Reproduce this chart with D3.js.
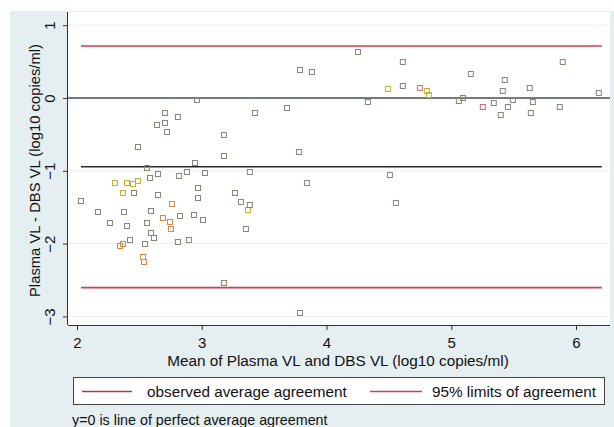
<!DOCTYPE html>
<html>
<head>
<meta charset="utf-8">
<script src="https://cdn.jsdelivr.net/npm/d3@7"></script>
<style>
  html, body { margin: 0; padding: 0; background: #ffffff; }
  svg { display: block; font-family: "Liberation Sans", Arial, sans-serif; }
</style>
</head>
<body>
<svg id="chart" width="614" height="427"></svg>
<script>
// Bland-Altman agreement: plasma vs DBS viral load (log10 copies/ml)
const meanVL = [
  2.032, 2.168, 2.264, 2.304, 2.369, 2.377, 2.401, 2.401, 2.449, 2.457,
  2.489, 2.489, 2.345, 2.369, 2.425, 2.529, 2.537, 2.545, 2.561, 2.561,
  2.585, 2.593, 2.593, 2.617, 2.641, 2.649, 2.649, 2.705, 2.705, 2.721,
  2.689, 2.745, 2.753, 2.761, 2.809, 2.817, 2.809, 2.825, 2.881, 2.897,
  2.938, 2.946, 2.962, 2.970, 2.970, 3.010, 3.026, 3.178, 3.178, 3.178,
  3.266, 3.314, 3.370, 3.386, 3.354, 3.386, 3.426, 3.683, 3.779, 3.787,
  3.843, 3.787, 3.883, 4.252, 4.332, 4.492, 4.508, 4.556, 4.612, 4.612,
  4.748, 4.804, 4.821, 5.157, 5.061, 5.093, 5.253, 5.341, 5.397, 5.413,
  5.429, 5.454, 5.494, 5.630, 5.638, 5.654, 5.870, 5.894, 6.183
];
const diffVL = [
  -1.415, -1.566, -1.717, -1.168, -1.305, -1.566, -1.168, -1.758, -1.181, -1.305,
  -1.140, -0.673, -2.033, -2.005, -1.951, -2.184, -2.253, -2.005, -0.962, -1.717,
  -1.099, -1.552, -1.854, -1.923, -0.371, -1.044, -1.332, -0.206, -0.343, -0.467,
  -1.648, -1.703, -1.799, -1.456, -0.261, -1.071, -1.978, -1.621, -1.016, -1.951,
  -1.607, -0.893, -0.027, -1.236, -1.374, -1.676, -1.030, -0.508, -0.797, -2.541,
  -1.305, -1.429, -1.538, -1.470, -1.799, -1.016, -0.206, -0.137, -0.742, -2.953,
  -1.168, 0.385, 0.357, 0.632, -0.055, 0.124, -1.058, -1.442, 0.495, 0.165,
  0.137, 0.096, 0.041, 0.330, -0.041, 0.000, -0.124, -0.069, -0.234, 0.096,
  0.247, -0.124, -0.027, 0.137, -0.206, -0.055, -0.124, 0.495, 0.069
];
// marker tint group per observation (0 grey, 1 orange, 2 yellow, 3 rose)
const markerGroup = [
  0, 0, 0, 2, 2, 0, 2, 0, 2, 0,
  2, 0, 1, 1, 0, 1, 1, 0, 0, 0,
  0, 0, 0, 0, 0, 0, 0, 0, 0, 0,
  1, 1, 1, 1, 0, 0, 0, 0, 0, 0,
  0, 0, 0, 0, 0, 0, 0, 0, 0, 0,
  0, 0, 2, 0, 0, 0, 0, 0, 0, 0,
  0, 0, 0, 0, 0, 2, 0, 0, 0, 0,
  3, 2, 2, 0, 0, 0, 3, 0, 0, 0,
  0, 0, 0, 0, 0, 0, 0, 0, 0
];

// agreement statistics
const meanDifference = -0.945;
const limitsOfAgreement = [0.715, -2.605];

const xTicks = [2, 3, 4, 5, 6];
const yTicks = [1, 0, -1, -2, -3];

const xTitle = "Mean of Plasma VL and DBS VL (log10 copies/ml)";
const yTitle = "Plasma VL - DBS VL (log10 copies/ml)";
const legendLabels = ["observed average agreement", "95% limits of agreement"];
const footnote = "y=0 is line of perfect average agreement";

const groupColors = ["#8e8272", "#d08a44", "#c4ad2c", "#d06a70"];
const FONT = "Liberation Sans, Arial, sans-serif";

const svg = d3.select("#chart");
const W = 614, H = 427;

// graph region
svg.append("rect").attr("x", 10).attr("y", 11).attr("width", W - 10).attr("height", H - 11)
  .attr("fill", "#e5eef0");

const plot = { left: 68, right: 610, top: 12, bottom: 325 };
svg.append("rect")
  .attr("x", plot.left).attr("y", plot.top)
  .attr("width", plot.right - plot.left).attr("height", plot.bottom - plot.top)
  .attr("fill", "#ffffff");

const x = d3.scaleLinear().domain([2, 6]).range([77, 576]);
const y = d3.scaleLinear().domain([1, -3]).range([25.2, 316.4]);

// faint horizontal grid
svg.append("g").selectAll("line").data(yTicks).join("line")
  .attr("x1", plot.left).attr("x2", plot.right)
  .attr("y1", d => y(d)).attr("y2", d => y(d))
  .attr("stroke", "#eaf0f2").attr("stroke-width", 1);

// axes
const xAxis = d3.axisBottom(x).tickValues(xTicks).tickSize(5).tickFormat(d3.format("d"));
const gx = svg.append("g").attr("transform", `translate(0,${plot.bottom})`).call(xAxis);
gx.select(".domain").attr("d", `M${plot.left},0.5H${plot.right}`).attr("stroke", "#333");
gx.selectAll(".tick line").attr("stroke", "#333");
gx.selectAll(".tick text").attr("font-size", 15).attr("fill", "#111")
  .attr("font-family", FONT).attr("y", 23).attr("dy", null);

const yAxis = d3.axisLeft(y).tickValues(yTicks).tickSize(5).tickFormat(d3.format("d"));
const gy = svg.append("g").attr("transform", `translate(${plot.left},0)`).call(yAxis);
gy.select(".domain").attr("d", `M-0.5,${plot.top}V${plot.bottom}`).attr("stroke", "#333");
gy.selectAll(".tick line").attr("stroke", "#333");
gy.selectAll(".tick text")
  .attr("font-size", 15).attr("fill", "#111")
  .attr("font-family", FONT)
  .attr("x", null).attr("dy", null)
  .attr("text-anchor", "middle")
  .attr("transform", "translate(-13,0) rotate(-90)");

// line of perfect agreement
svg.append("line")
  .attr("x1", plot.left).attr("x2", plot.right)
  .attr("y1", y(0)).attr("y2", y(0))
  .attr("stroke", "#44544e").attr("stroke-width", 1.6);

const [xMin, xMax] = d3.extent(meanVL);

// observed mean difference
svg.append("line")
  .attr("x1", x(xMin)).attr("x2", x(xMax) + 3)
  .attr("y1", y(meanDifference)).attr("y2", y(meanDifference))
  .attr("stroke", "#2a2a2e").attr("stroke-width", 1.6);

// 95% limits of agreement
svg.append("g").selectAll("line").data(limitsOfAgreement).join("line")
  .attr("x1", x(xMin)).attr("x2", x(xMax) + 3)
  .attr("y1", d => y(d)).attr("y2", d => y(d))
  .attr("stroke", "#cc3d55").attr("stroke-width", 1.6);

// observations
const pts = meanVL.map((m, i) => ({ m, d: diffVL[i], g: markerGroup[i] }));
svg.append("g").selectAll("rect").data(pts).join("rect")
  .attr("x", p => x(p.m) - 2.5).attr("y", p => y(p.d) - 2.5)
  .attr("width", 5).attr("height", 5)
  .attr("fill", "none")
  .attr("stroke", p => groupColors[p.g])
  .attr("stroke-width", 1);

// axis titles
svg.append("text")
  .attr("x", 338).attr("y", 366)
  .attr("text-anchor", "middle").attr("font-size", 15.3).attr("fill", "#111")
  .text(xTitle);
svg.append("text")
  .attr("transform", `translate(40,${(plot.top + plot.bottom) / 2 + 2}) rotate(-90)`)
  .attr("text-anchor", "middle").attr("font-size", 14.8).attr("fill", "#111")
  .text(yTitle);

// legend
const legend = svg.append("g");
legend.append("rect")
  .attr("x", 73.5).attr("y", 377.5).attr("width", 531).attr("height", 27)
  .attr("fill", "#ffffff").attr("stroke", "#444").attr("stroke-width", 1);
const legendItems = [
  { x0: 82, x1: 132, tx: 147, color: "#b03848", label: legendLabels[0] },
  { x0: 370, x1: 422, tx: 432, color: "#cc3d55", label: legendLabels[1] }
];
legendItems.forEach(it => {
  legend.append("line").attr("x1", it.x0).attr("x2", it.x1)
    .attr("y1", 391.5).attr("y2", 391.5)
    .attr("stroke", it.color).attr("stroke-width", 1.6);
  legend.append("text").attr("x", it.tx).attr("y", 397)
    .attr("font-size", 15.3).attr("fill", "#111").text(it.label);
});

// note
svg.append("text").attr("x", 72).attr("y", 425)
  .attr("font-size", 14.3).attr("fill", "#111").text(footnote);
</script>
</body>
</html>
